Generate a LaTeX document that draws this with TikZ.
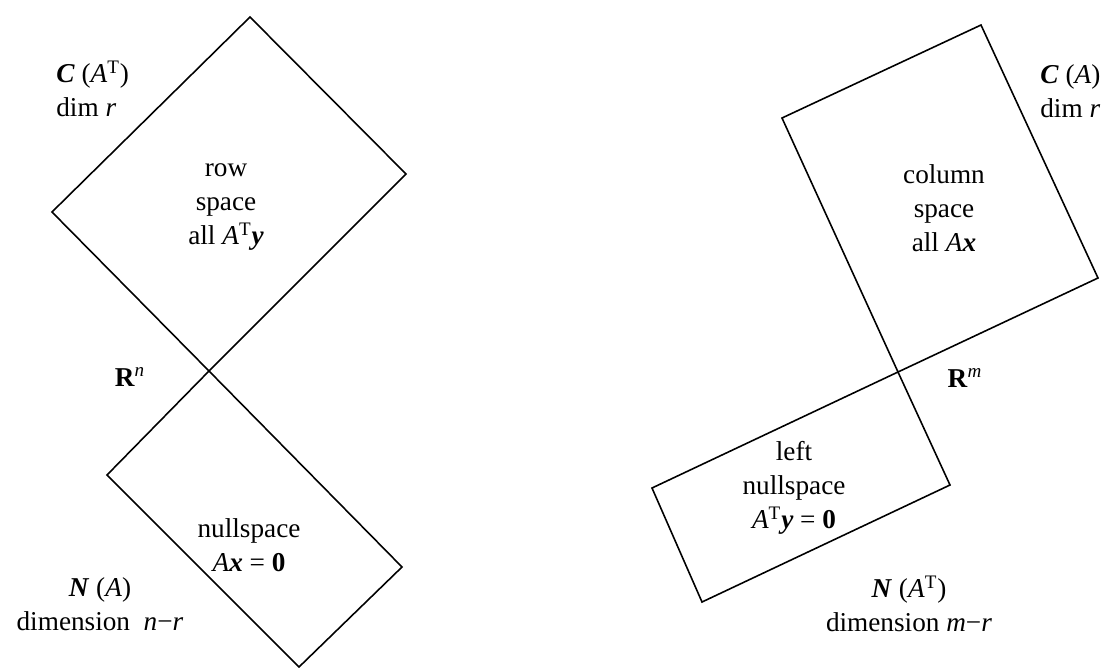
\documentclass[tikz,border=0pt]{standalone}
\usepackage{fontspec}
\setmainfont{Liberation Serif}
\usepackage{tikz}

\newcommand{\bvec}[1]{\textbf{\textit{#1}}}
\newcommand{\ivar}[1]{\textit{#1}}
\newcommand{\trsp}{\textsuperscript{T}}

\begin{document}
\begin{tikzpicture}[x=0.02cm, y=-0.02cm]
    \tikzstyle{subspace} = [draw, line width=0.9pt, line join=miter]
    \tikzstyle{lbl} = [font=\fontsize{15.5}{19.5}\selectfont, align=center, inner sep=0pt]
    \tikzstyle{lblleft} = [lbl, align=left, anchor=west]

    \useasboundingbox (0,0) rectangle (1103,667);

    % corners, left picture (R^n)
    \coordinate (rsT) at (250,17);
    \coordinate (rsR) at (406,174);
    \coordinate (crossn) at (209,371);
    \coordinate (rsL) at (52,212);
    \coordinate (nsL) at (107,475);
    \coordinate (nsR) at (402,567);
    \coordinate (nsB) at (299,667);

    % corners, right picture (R^m)
    \coordinate (csTL) at (782,118);
    \coordinate (csTR) at (981,25);
    \coordinate (csBR) at (1098,278);
    \coordinate (crossm) at (898,372);
    \coordinate (lnL) at (652,488);
    \coordinate (lnR) at (950,485);
    \coordinate (lnB) at (702,602);

    \draw [subspace] (rsT) -- (rsR) -- (crossn) -- (rsL) -- cycle;
    \draw [subspace] (crossn) -- (nsR) -- (nsB) -- (nsL) -- cycle;
    \draw [subspace] (csTL) -- (csTR) -- (csBR) -- (crossm) -- cycle;
    \draw [subspace] (crossm) -- (lnR) -- (lnB) -- (lnL) -- cycle;

    % left labels
    \node [lblleft] (rowdim) at (56,89) {\bvec{C} (\ivar{A}\trsp)\\dim \ivar{r}};
    \node [lbl] (rowsp) at (226,207) {row\\space\\all \ivar{A}\trsp\bvec{y}};
    \node [lbl] (rn) at (130,377) {\textbf{R}\textsuperscript{\ivar{n}}};
    \node [lbl] (nullsp) at (249,545) {nullspace\\\ivar{A}\bvec{x} = \textbf{0}};
    \node [lbl] (nulldim) at (100,604) {\bvec{N} (\ivar{A})\\dimension \ \ivar{n}−\ivar{r}};

    % right labels
    \node [lblleft] (coldim) at (1040,91) {\bvec{C} (\ivar{A})\\dim \ivar{r}};
    \node [lbl] (colsp) at (944,208) {column\\space\\all \ivar{A}\bvec{x}};
    \node [lbl] (rm) at (965,378) {\textbf{R}\textsuperscript{\ivar{m}}};
    \node [lbl] (leftsp) at (794,488) {left\\nullspace\\\ivar{A}\trsp\bvec{y} = \textbf{0}};
    \node [lbl] (leftdim) at (909,604) {\bvec{N} (\ivar{A}\trsp)\\dimension \ivar{m}−\ivar{r}};
\end{tikzpicture}
\end{document}
